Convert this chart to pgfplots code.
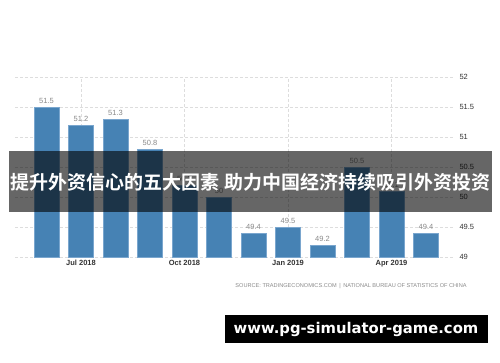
\documentclass[border=0pt]{standalone}
\usepackage{pgfplots}
\pgfplotsset{compat=1.18}
\usepackage{fontspec}
\setmainfont{Liberation Sans}
\newfontfamily\cjk{Noto Sans CJK SC}[BoldFont={Noto Sans CJK SC Bold}]
\newfontfamily\wm{DejaVu Sans}
\definecolor{barblue}{HTML}{4682B4}
\definecolor{baredge}{HTML}{7AA6CE}
\definecolor{gridc}{HTML}{DDDDDD}
\definecolor{lblgray}{HTML}{8A8A8A}
\definecolor{tickc}{HTML}{333333}
\begin{document}
\begin{tikzpicture}[x=1pt,y=1pt]
\fill[white] (0,0) rectangle (500,362);
\begin{axis}[
  at={(15pt,105pt)}, anchor=south west,
  scale only axis, width=440pt, height=180pt,
  xmin=-0.913, xmax=11.84,
  ymin=49, ymax=52,
  ytick={49,49.5,50,50.5,51,51.5,52},
  yticklabel pos=right,
  xtick={1,4,7,10},
  xticklabels={Jul 2018,Oct 2018,Jan 2019,Apr 2019},
  axis line style={draw=none},
  major tick length=0pt,
  grid=major,
  grid style={densely dashed, gridc, line width=0.5pt},
  yticklabel style={font=\fontsize{7.5}{8}\selectfont, text=tickc, xshift=1pt},
  xticklabel style={font=\bfseries\fontsize{7.5}{8}\selectfont, text=tickc},
  ybar, bar width=25pt,
  nodes near coords,
  nodes near coords style={font=\fontsize{7.5}{8}\selectfont, text=lblgray, /pgf/number format/fixed, /pgf/number format/precision=1},
  /pgf/number format/assume math mode=true,
]
\addplot[fill=barblue, draw=baredge, line width=0.7pt] coordinates {
(0,51.5) (1,51.2) (2,51.3) (3,50.8) (4,50.2) (5,50.0)
(6,49.4) (7,49.5) (8,49.2) (9,50.5) (10,50.1) (11,49.4)};
\end{axis}
\fill[black, opacity=0.6] (9,150) rectangle (492,211);
\node[text=white, inner sep=0] at (250.5,180) {\cjk\bfseries\fontsize{19}{19}\selectfont 提升外资信心的五大因素 助力中国经济持续吸引外资投资};
\node[text=lblgray, inner sep=0] at (351,76) {\fontsize{5.6}{6}\selectfont SOURCE: TRADINGECONOMICS.COM \,|\, NATIONAL BUREAU OF STATISTICS OF CHINA};
\fill[black] (225,19) rectangle (488,47);
\node[text=white, inner sep=0] at (356,33) {\wm\bfseries\fontsize{14.8}{16}\selectfont www.pg-simulator-game.com};
\end{tikzpicture}
\end{document}
